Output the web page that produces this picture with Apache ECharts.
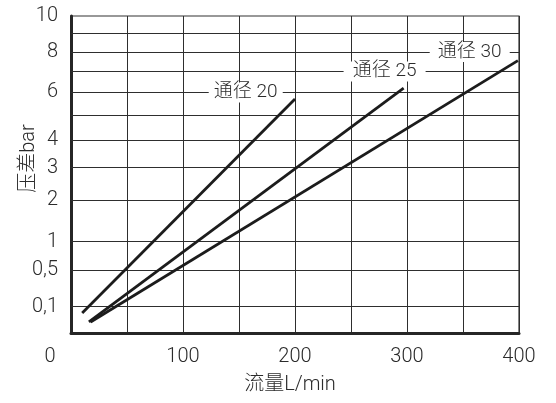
<!DOCTYPE html>
<html>
<head>
<meta charset="utf-8">
<script src="https://cdn.jsdelivr.net/npm/echarts@6/dist/echarts.min.js"></script>
<style>
  html, body { margin: 0; padding: 0; background: #fff; }
  #chart { width: 556px; height: 403px; }
</style>
</head>
<body>
<div id="chart"></div>
<script>
// Pressure drop against flow for three valve sizes
const flowLabels = [0, 100, 200, 300, 400];
const pressureGrid = [0.1, 0.5, 1, 2, 3, 4, 5, 6, 7, 8, 9];
const pressureLabels = [0.1, 0.5, 1, 2, 3, 4, 6, 8, 10];

const sizeNames = ['通径 20', '通径 25', '通径 30'];
const flow20 = [10, 200];
const drop20 = [0.06, 5.7];
const flow25 = [16, 297];
const drop25 = [0.02, 6.2];
const flow30 = [17.5, 399];
const drop30 = [0.02, 7.55];

// The pressure axis is a power scale: values are mapped before plotting
const EXP = 0.54;
const pw = v => Math.pow(v, EXP);

const FONT = 'Roboto, "Noto Sans CJK SC", sans-serif';
const INK = '#2b2b2b';
const GRIDLINE = '#2e2e2e';
const TXT = { color: INK, fontFamily: FONT, fontWeight: 300, fontSize: 20 };

function pairs(xs, ys) {
  return xs.map((x, i) => [x, pw(ys[i])]);
}

function pressureText(v) {
  let best = pressureLabels[0];
  pressureLabels.forEach(p => { if (Math.abs(pw(p) - v) < Math.abs(pw(best) - v)) best = p; });
  return String(best).replace('.', ',');
}

function sizeSeries(name, xs, ys, tag) {
  return {
    type: 'line',
    name: name,
    data: pairs(xs, ys),
    symbol: 'none',
    silent: true,
    animation: false,
    z: 3,
    lineStyle: { color: '#1c1c1c', width: 2.8 },
    markPoint: {
      silent: true,
      animation: false,
      z: 6,
      symbol: 'rect',
      symbolSize: [tag.w, 20],
      itemStyle: { color: '#fff' },
      label: Object.assign({ show: true, position: 'inside', formatter: name }, TXT, { fontSize: 19 }),
      data: [{ coord: [tag.x, pw(tag.y)] }]
    }
  };
}

// horizontal pressure grid lines
const gridSeries = {
  type: 'line',
  data: [],
  silent: true,
  animation: false,
  markLine: {
    silent: true,
    animation: false,
    z: 1,
    symbol: ['none', 'none'],
    label: { show: false },
    lineStyle: { color: GRIDLINE, width: 1, type: 'solid' },
    emphasis: { disabled: true },
    data: pressureGrid.map(p => ({ yAxis: pw(p) }))
  }
};

const chart = echarts.init(document.getElementById('chart'), null, { renderer: 'canvas' });

chart.setOption({
  backgroundColor: '#fff',
  animation: false,
  grid: {
    left: 71, right: 37, top: 16, bottom: 70,
    show: true,
    borderColor: '#333',
    borderWidth: 1.2,
    containLabel: false,
    outerBoundsMode: 'none'
  },
  xAxis: {
    type: 'value',
    min: 0,
    max: 400,
    interval: 50,
    name: '流量L/min',
    nameLocation: 'middle',
    nameGap: 42,
    nameTextStyle: Object.assign({}, TXT, { padding: [0, 10, 0, 0] }),
    axisLine: { show: true, onZero: false, lineStyle: { color: '#262626', width: 3 } },
    axisTick: { show: false },
    splitLine: { show: true, lineStyle: { color: GRIDLINE, width: 1 } },
    axisLabel: Object.assign({
      customValues: flowLabels,
      margin: 14,
      formatter: v => (v === 0 ? '{o|0}' : String(v)),
      rich: { o: Object.assign({}, TXT, { padding: [0, 42, 0, 0] }) }
    }, TXT)
  },
  yAxis: {
    type: 'value',
    min: 0,
    max: pw(10),
    name: '压差bar',
    nameLocation: 'middle',
    nameGap: 32,
    nameMoveOverlap: false,
    nameRotate: 90,
    nameTextStyle: Object.assign({}, TXT, { padding: [0, 0, 0, 32] }),
    axisLine: { show: true, lineStyle: { color: '#262626', width: 3 } },
    axisTick: { show: false },
    splitLine: { show: false },
    axisLabel: Object.assign({
      customValues: pressureLabels.map(pw),
      margin: 13,
      formatter: v => pressureText(v)
    }, TXT)
  },
  series: [
    gridSeries,
    sizeSeries(sizeNames[0], flow20, drop20, { x: 156, y: 6, w: 74 }),
    sizeSeries(sizeNames[1], flow25, drop25, { x: 280, y: 7, w: 82 }),
    sizeSeries(sizeNames[2], flow30, drop30, { x: 356, y: 8, w: 80 })
  ]
});
</script>
</body>
</html>
